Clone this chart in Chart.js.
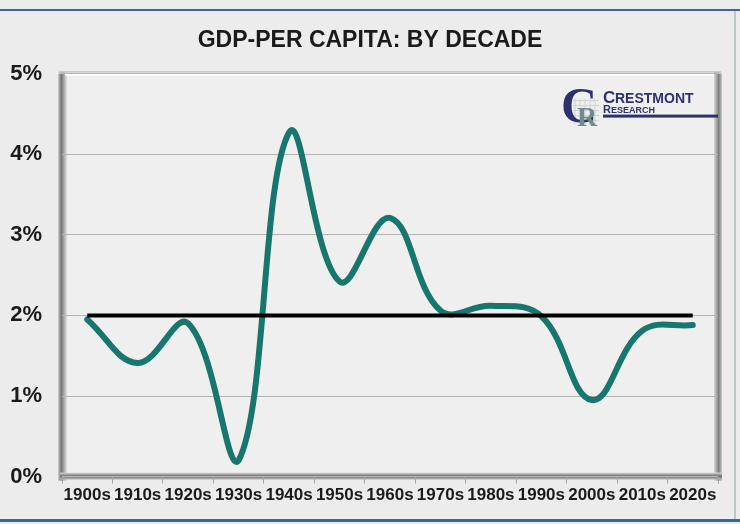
<!DOCTYPE html>
<html>
<head>
<meta charset="utf-8">
<script src="https://cdn.jsdelivr.net/npm/chart.js@4"></script>
<style>
  html, body { margin: 0; padding: 0; background: #ececec; }
  #wrap { position: relative; width: 740px; height: 524px; }
  #wrap:before { content: ''; position: absolute; left: 0; right: 0; top: 9px; border-top: 2px solid #3e63a6; }
  #wrap:after { content: ''; position: absolute; left: 0; right: 0; top: 519px; border-top: 3px solid #3e63a6; }
  #edge { position: absolute; left: 734px; top: 11px; height: 508px; border-left: 2px solid #b9c9c9; }
</style>
</head>
<body>
<div id="wrap">
  <div id="edge"></div>
  <canvas id="gdpChart" width="740" height="524"></canvas>
</div>
<script>
const decades = ['1900s', '1910s', '1920s', '1930s', '1940s', '1950s', '1960s',
                 '1970s', '1980s', '1990s', '2000s', '2010s', '2020s'];
const gdpGrowth = [1.95, 1.41, 1.90, 0.20, 4.27, 2.42, 3.21, 2.06, 2.12, 1.99, 0.95, 1.81, 1.88];
const avgLine = [2, 2, 2, 2, 2, 2, 2, 2, 2, 2, 2, 2, 2];
const yTicks = [0, 1, 2, 3, 4, 5];

// beveled plot frame, drawn under the grid
const plotFrame = {
  id: 'plotFrame',
  beforeDraw(chart) {
    const { ctx, chartArea: a } = chart;
    ctx.save();
    ctx.fillStyle = '#efefef';
    ctx.fillRect(a.left, a.top, a.right - a.left, a.bottom - a.top);
    // left shadow
    let g = ctx.createLinearGradient(a.left - 4, 0, a.left + 5, 0);
    g.addColorStop(0, '#d0d0d0');
    g.addColorStop(0.35, '#727272');
    g.addColorStop(1, '#e2e2e2');
    ctx.fillStyle = g;
    ctx.fillRect(a.left - 4, a.top, 9, a.bottom - a.top + 4);
    // right shadow
    g = ctx.createLinearGradient(a.right - 4, 0, a.right + 4, 0);
    g.addColorStop(0, '#d8d8d8');
    g.addColorStop(0.6, '#7d7d7d');
    g.addColorStop(1, '#c8c8c8');
    ctx.fillStyle = g;
    ctx.fillRect(a.right - 4, a.top, 8, a.bottom - a.top + 4);
    // bottom shadow
    g = ctx.createLinearGradient(0, a.bottom - 4, 0, a.bottom + 3);
    g.addColorStop(0, '#dcdcdc');
    g.addColorStop(0.5, '#6f6f6f');
    g.addColorStop(1, '#bdbdbd');
    ctx.fillStyle = g;
    ctx.fillRect(a.left - 2, a.bottom - 4, a.right - a.left + 6, 7);
    // top edge with highlight
    ctx.fillStyle = '#9a9a9a';
    ctx.fillRect(a.left - 3, a.top - 2, a.right - a.left + 6, 1);
    ctx.fillStyle = '#ffffff';
    ctx.fillRect(a.left + 3, a.top - 1, a.right - a.left - 7, 3);
    ctx.restore();
  }
};

// company mark in the upper right corner of the plot
const logo = {
  id: 'logo',
  afterDatasetsDraw(chart) {
    const { ctx, chartArea: a } = chart;
    const x = a.right - 157, y = a.top + 13;
    ctx.save();
    ctx.strokeStyle = '#c9d3d3';
    ctx.lineWidth = 1;
    for (let i = 0; i < 5; i++) {
      ctx.beginPath(); ctx.moveTo(x + 14 + i * 5, y + 12); ctx.lineTo(x + 14 + i * 5, y + 38); ctx.stroke();
      ctx.beginPath(); ctx.moveTo(x + 12, y + 14 + i * 5); ctx.lineTo(x + 38, y + 14 + i * 5); ctx.stroke();
    }
    ctx.fillStyle = '#2e3170';
    ctx.font = 'bold 50px "Liberation Serif", serif';
    ctx.textBaseline = 'alphabetic';
    ctx.fillText('C', x, y + 35);
    ctx.fillStyle = '#6f8c8a';
    ctx.font = 'bold 28px "Liberation Serif", serif';
    ctx.fillText('R', x + 16, y + 39);
    ctx.fillStyle = '#2e3170';
    ctx.font = 'bold 17px "Liberation Sans", Arial, sans-serif';
    ctx.fillText('C', x + 42, y + 16);
    ctx.font = 'bold 14px "Liberation Sans", Arial, sans-serif';
    ctx.fillText('RESTMONT', x + 54, y + 16);
    ctx.font = 'bold 11px "Liberation Sans", Arial, sans-serif';
    ctx.fillText('R', x + 42, y + 26);
    ctx.font = 'bold 9px "Liberation Sans", Arial, sans-serif';
    ctx.fillText('ESEARCH', x + 50, y + 26);
    ctx.fillRect(x + 42, y + 28, 115, 3);
    ctx.restore();
  }
};

new Chart(document.getElementById('gdpChart'), {
  type: 'line',
  data: {
    labels: decades,
    datasets: [
      {
        label: 'Average',
        data: avgLine,
        borderColor: '#000000',
        borderWidth: 4,
        pointRadius: 0,
        tension: 0
      },
      {
        label: 'GDP per capita growth',
        data: gdpGrowth,
        borderColor: '#17766e',
        borderWidth: 6,
        pointRadius: 0,
        tension: 0.4,
        borderCapStyle: 'round'
      }
    ]
  },
  options: {
    responsive: false,
    animation: false,
    layout: { padding: { top: 27, left: 8, right: 8, bottom: 16 } },
    plugins: {
      legend: { display: false },
      tooltip: { enabled: false },
      title: {
        display: true,
        text: 'GDP-PER CAPITA: BY DECADE',
        color: '#1a1a1a',
        font: { family: '"Liberation Sans", Arial, sans-serif', size: 23, weight: 'bold' },
        padding: { top: 0, bottom: 19 }
      }
    },
    scales: {
      x: {
        offset: true,
        grid: { offset: true, drawOnChartArea: false, tickLength: 7, color: '#a8a8a8' },
        border: { display: false },
        ticks: {
          autoSkip: false,
          maxRotation: 0,
          padding: 2,
          color: '#1a1a1a',
          font: { family: '"Liberation Sans", Arial, sans-serif', size: 17, weight: 'bold' }
        }
      },
      y: {
        min: 0,
        max: 5,
        afterBuildTicks: scale => { scale.ticks = yTicks.map(v => ({ value: v })); },
        afterFit: scale => { scale.width = 54; },
        grid: { color: '#b4b4b4', drawTicks: false },
        border: { display: false },
        ticks: {
          padding: 20,
          color: '#1a1a1a',
          callback: v => v + '%',
          font: { family: '"Liberation Sans", Arial, sans-serif', size: 22, weight: 'bold' }
        }
      },
      // empty right-hand margin beside the frame
      yRight: {
        position: 'right',
        min: 0,
        max: 5,
        afterFit: scale => { scale.width = 14; },
        grid: { display: false },
        border: { display: false },
        ticks: { display: false }
      }
    }
  },
  plugins: [plotFrame, logo]
});
</script>
</body>
</html>
